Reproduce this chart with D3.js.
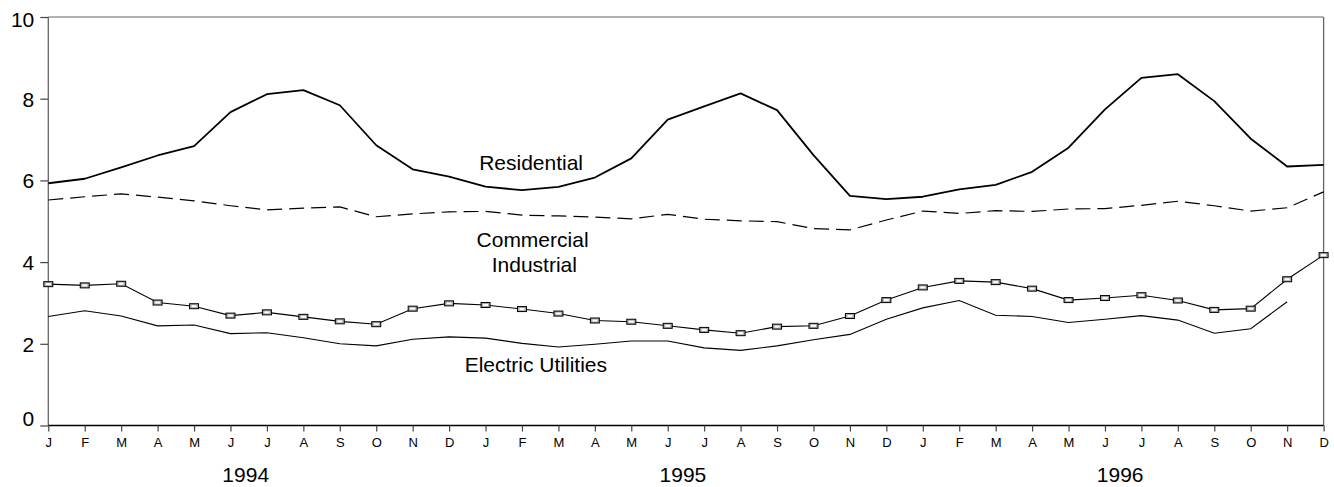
<!DOCTYPE html>
<html>
<head>
<meta charset="utf-8">
<script src="https://cdn.jsdelivr.net/npm/d3@7"></script>
<style>
  html, body { margin: 0; padding: 0; background: #fff; }
  svg { display: block; font-family: Arial, "Liberation Sans", sans-serif; }
</style>
</head>
<body>
<svg id="chart" width="1334" height="487"></svg>
<script>
// ---- data ----
const months = ["J","F","M","A","M","J","J","A","S","O","N","D",
                "J","F","M","A","M","J","J","A","S","O","N","D",
                "J","F","M","A","M","J","J","A","S","O","N","D"];
const years = ["1994", "1995", "1996"];
const yTicks = [0, 2, 4, 6, 8, 10];

const residential = [5.93,6.04,6.32,6.61,6.84,7.67,8.11,8.21,7.84,6.86,6.27,6.09,
                     5.85,5.76,5.84,6.07,6.54,7.49,7.81,8.13,7.72,6.62,5.62,5.54,
                     5.60,5.78,5.89,6.21,6.80,7.74,8.51,8.60,7.94,7.02,6.34,6.38];
const commercial  = [5.52,5.60,5.67,5.59,5.50,5.38,5.28,5.32,5.35,5.11,5.18,5.23,
                     5.24,5.15,5.13,5.10,5.06,5.17,5.05,5.01,4.99,4.82,4.79,5.03,
                     5.25,5.19,5.26,5.24,5.30,5.31,5.39,5.49,5.38,5.25,5.33,5.72];
const industrial  = [3.46,3.43,3.47,3.01,2.92,2.69,2.77,2.66,2.55,2.48,2.86,2.99,
                     2.95,2.85,2.74,2.57,2.54,2.44,2.34,2.26,2.42,2.44,2.68,3.07,
                     3.38,3.54,3.51,3.35,3.07,3.12,3.19,3.06,2.83,2.86,3.58,4.17];
const electric    = [2.67,2.81,2.68,2.44,2.46,2.25,2.27,2.15,2.00,1.95,2.11,2.17,
                     2.14,2.01,1.92,1.99,2.07,2.07,1.90,1.84,1.95,2.10,2.23,2.60,
                     2.88,3.06,2.70,2.67,2.52,2.60,2.69,2.58,2.26,2.37,3.03,null];

const seriesLabels = [
  { text: "Residential", i: 13.25, v: 6.26 },
  { text: "Commercial", i: 13.29, v: 4.37 },
  { text: "Industrial", i: 13.34, v: 3.76 },
  { text: "Electric Utilities", i: 13.38, v: 1.31 }
];

// ---- layout ----
const mLeft = 48.3, mRight = 1323.6, mTop = 17, mBottom = 425.5;
const svg = d3.select("#chart");

const idx = d3.range(months.length);
const x = d3.scaleLinear().domain([0, months.length - 1]).range([mLeft, mRight]);
const y = d3.scaleLinear().domain([0, 10]).range([mBottom, mTop]);

// frame
svg.append("line").attr("x1", mLeft).attr("x2", mRight).attr("y1", mTop).attr("y2", mTop)
  .attr("stroke", "#666").attr("stroke-width", 1);
svg.append("line").attr("x1", mRight).attr("x2", mRight).attr("y1", mTop).attr("y2", mBottom)
  .attr("stroke", "#666").attr("stroke-width", 1.3);
svg.append("line").attr("x1", mLeft).attr("x2", mLeft).attr("y1", mTop).attr("y2", mBottom)
  .attr("stroke", "#666").attr("stroke-width", 1.3);

// y axis
const yAxis = svg.append("g").attr("transform", `translate(${mLeft},0)`)
  .call(d3.axisLeft(y).tickValues(yTicks).tickSize(8).tickPadding(6).tickFormat(d3.format("d")));
yAxis.select(".domain").remove();
yAxis.selectAll(".tick line").attr("stroke", "#444").attr("stroke-width", 1.2);
yAxis.selectAll(".tick text")
  .attr("font-family", "Arial, 'Liberation Sans', sans-serif")
  .attr("font-size", 21).attr("fill", "#000")
  .attr("dy", d => d === 0 ? "0em" : d === 10 ? "0.46em" : "0.36em");

// x axis
const xAxis = svg.append("g").attr("transform", `translate(0,${mBottom})`)
  .call(d3.axisBottom(x).tickValues(idx).tickSize(6).tickFormat(i => months[i]));
xAxis.select(".domain").attr("stroke", "#000").attr("stroke-width", 1.4)
  .attr("d", `M${mLeft},0H${mRight}`);
xAxis.selectAll(".tick line").attr("stroke", "#444").attr("stroke-width", 1.2);
xAxis.selectAll(".tick text")
  .attr("font-family", "Arial, 'Liberation Sans', sans-serif")
  .attr("font-size", 13).attr("fill", "#000")
  .attr("y", 21.5).attr("dy", null);

// year labels
svg.append("g").selectAll("text").data(years).join("text")
  .attr("x", (d, k) => (x(k * 12) + x(k * 12 + 11)) / 2 - 3)
  .attr("y", 482)
  .attr("text-anchor", "middle")
  .attr("font-size", 21)
  .text(d => d);

// lines
const lineGen = arr => d3.line()
  .defined(i => arr[i] !== null)
  .x(i => x(i)).y(i => y(arr[i]))(idx);

svg.append("path").attr("d", lineGen(electric))
  .attr("fill", "none").attr("stroke", "#000").attr("stroke-width", 1.1);
svg.append("path").attr("d", lineGen(industrial))
  .attr("fill", "none").attr("stroke", "#000").attr("stroke-width", 1.1);
svg.append("path").attr("d", lineGen(commercial))
  .attr("fill", "none").attr("stroke", "#000").attr("stroke-width", 1.2)
  .attr("stroke-dasharray", "15,7");
svg.append("path").attr("d", lineGen(residential))
  .attr("fill", "none").attr("stroke", "#000").attr("stroke-width", 1.8)
  .attr("stroke-linejoin", "round");

// industrial markers
const mk = svg.append("g").selectAll("g").data(idx).join("g")
  .attr("transform", i => `translate(${x(i)},${y(industrial[i])})`);
mk.append("rect").attr("x", -4.5).attr("y", -2.5).attr("width", 9).attr("height", 5)
  .attr("fill", "#aaa").attr("stroke", "#000").attr("stroke-width", 1);
mk.append("rect").attr("x", -2.5).attr("y", -1).attr("width", 5).attr("height", 2)
  .attr("fill", "#fff").attr("stroke", "none");

// series labels
svg.append("g").selectAll("text").data(seriesLabels).join("text")
  .attr("x", d => x(d.i))
  .attr("y", d => y(d.v))
  .attr("text-anchor", "middle")
  .attr("font-size", 21)
  .attr("fill", "#000")
  .text(d => d.text);
</script>
</body>
</html>
